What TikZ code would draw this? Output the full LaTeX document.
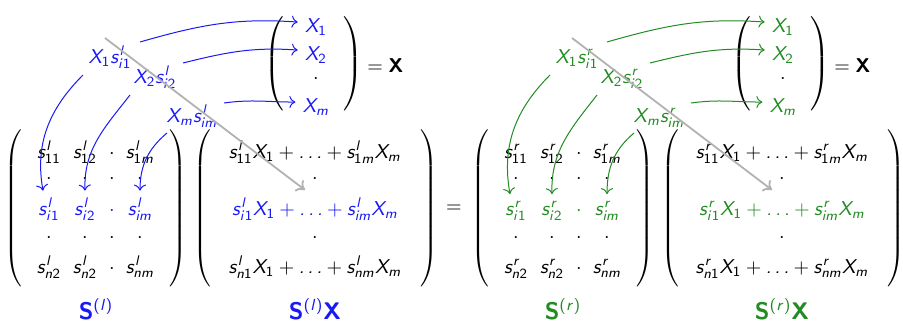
\documentclass[tikz,border=0pt]{standalone}
\usepackage{graphicx}
\usetikzlibrary{arrows.meta,calc}
\DeclareSymbolFont{letters}{OT1}{cmss}{m}{sl}
\DeclareSymbolFont{operators}{OT1}{cmss}{m}{n}
\DeclareMathAlphabet{\mathbf}{OT1}{cmss}{bx}{n}
\newcommand{\pnt}{\mathchar"012E}
\newcommand{\mydots}{\mathinner{\pnt\mkern3mu\pnt\mkern3mu\pnt}}
\definecolor{cblue}{RGB}{25,25,245}
\definecolor{cgreen}{RGB}{34,139,34}
\definecolor{cgray}{RGB}{178,178,178}
\newcommand{\lparm}[2]{\resizebox*{!}{#2}{$\left(\vcenter to #1{\vss}\right.$}}
\newcommand{\rparm}[2]{\resizebox*{!}{#2}{$\left.\vcenter to #1{\vss}\right)$}}
\newcommand{\mparl}[1]{{\delimiterfactor=1000 \delimitershortfall=0pt \lparm{74pt}{#1}}}
\newcommand{\mparr}[1]{{\delimiterfactor=1000 \delimitershortfall=0pt \rparm{74pt}{#1}}}
\tikzset{
  ent/.style={anchor=base, inner sep=3.5pt},
  parbox/.style={inner sep=0pt},
  conn/.style={line width=0.5pt, -{To[length=3pt,width=6pt]}},
  diag/.style={draw=cgray, line width=0.9pt, -{To[length=4pt,width=7pt]}},
  biglabel/.style={anchor=base, inner sep=0pt, font=\large},
}
\newcommand{\halfpic}[4]{%
\begin{scope}[shift={(#1,0)}]
  % matrix S
  \node[parbox] (#4sl) at (15,208.5) {\mparl{78.5pt}};
  \node[parbox] (#4sr) at (177,208.5) {\mparr{78.5pt}};
  \node[ent] (#4a11) at (49,158) {$s^{#3}_{11}$};
  \node[ent] (#4a12) at (85,158) {$s^{#3}_{12}$};
  \node[ent] (#4a13) at (112,158) {$\cdot$};
  \node[ent] (#4a1m) at (140,158) {$s^{#3}_{1m}$};
  \node[ent] (#4b1) at (49,183) {$\cdot$};
  \node[ent] (#4b2) at (85,183) {$\cdot$};
  \node[ent] (#4b3) at (112,183) {$\cdot$};
  \node[ent] (#4b4) at (140,183) {$\cdot$};
  \node[ent,text=#2] (#4i1) at (49,215) {$s^{#3}_{i1}$};
  \node[ent,text=#2] (#4i2) at (85,215) {$s^{#3}_{i2}$};
  \node[ent,text=#2] (#4i3) at (112,215) {$\cdot$};
  \node[ent,text=#2] (#4im) at (140,215) {$s^{#3}_{im}$};
  \node[ent] (#4c1) at (49,242) {$\cdot$};
  \node[ent] (#4c2) at (85,242) {$\cdot$};
  \node[ent] (#4c3) at (112,242) {$\cdot$};
  \node[ent] (#4c4) at (140,242) {$\cdot$};
  \node[ent] (#4n1) at (49,273) {$s^{#3}_{n2}$};
  \node[ent] (#4n2) at (85,273) {$s^{#3}_{n2}$};
  \node[ent] (#4n3) at (112,273) {$\cdot$};
  \node[ent] (#4nm) at (140,273) {$s^{#3}_{nm}$};
  % matrix SX
  \node[parbox] (#4tl) at (204,208.5) {\mparl{78.5pt}};
  \node[parbox] (#4tr) at (428,208.5) {\mparr{78.5pt}};
  \node[ent] (#4r1) at (315,158) {$s^{#3}_{11}X_1+\mydots+s^{#3}_{1m}X_m$};
  \node[ent] (#4r2) at (315,183) {$\cdot$};
  \node[ent,text=#2] (#4r3) at (315,215) {$s^{#3}_{i1}X_1+\mydots+s^{#3}_{im}X_m$};
  \node[ent] (#4r4) at (315,242) {$\cdot$};
  \node[ent] (#4r5) at (315,273) {$s^{#3}_{n1}X_1+\mydots+s^{#3}_{nm}X_m$};
  % labels below
  \node[biglabel,text=#2] (#4ls) at (96,319) {$\mathbf{S}^{(#3)}$};
  \node[biglabel,text=#2] (#4lsx) at (315,319) {$\mathbf{S}^{(#3)}\mathbf{X}$};
  % vector X
  \node[parbox] (#4vl) at (276,64) {\lparm{44pt}{49.3pt}};
  \node[parbox] (#4vr) at (352,64) {\rparm{44pt}{49.3pt}};
  \node[ent,text=#2] (#4x1) at (316,32) {$X_1$};
  \node[ent,text=#2] (#4x2) at (316,60) {$X_2$};
  \node[ent] (#4xd) at (316,83) {$\cdot$};
  \node[ent,text=#2] (#4xm) at (316,112) {$X_m$};
  \node[anchor=base west,inner sep=0pt] (#4eq) at (367,72) {$=\mathbf{X}$};
  % products
  \node[ent,text=#2] (#4p1) at (110,63) {$X_1s^{#3}_{i1}$};
  \node[ent,text=#2] (#4p2) at (155,83) {$X_2s^{#3}_{i2}$};
  \node[ent,text=#2] (#4p3) at (192,122) {$X_ms^{#3}_{im}$};
  % connectors
  \coordinate (#4u1) at (140,42);
  \coordinate (#4u2) at (183,63);
  \coordinate (#4u3) at (224,103);
  \coordinate (#4d1) at (83,75);
  \coordinate (#4d2) at (130,95);
  \coordinate (#4d3) at (167,133);
  \draw[conn,#2] (#4u1) to[out=16,in=176] ($(#4x1.west)+(0,-4.5)$);
  \draw[conn,#2] (#4u2) to[out=14,in=176] ($(#4x2.west)+(0,-4.5)$);
  \draw[conn,#2] (#4u3) to[out=8,in=180] ($(#4xm.west)+(0,-4.5)$);
  \draw[conn,#2] (#4d1) to[out=225,in=100] ($(#4i1.north)+(-6,0)$);
  \draw[conn,#2] (#4d2) to[out=232,in=92] (#4i2.north);
  \draw[conn,#2] (#4d3) to[out=220,in=90] (#4im.north);
  % diagonal
  \coordinate (#4gs) at (105,38);
  \coordinate (#4ge) at (305,190);
  \draw[diag] (#4gs) -- (#4ge);
\end{scope}}
\begin{document}
\begin{tikzpicture}[x=0.5pt,y=-0.5pt]
  \useasboundingbox (0,0) rectangle (903,322);
  \halfpic{0}{cblue}{l}{L}
  \halfpic{467}{cgreen}{r}{R}
  \node[anchor=base,inner sep=0pt] (mideq) at (454,212) {$=$};
\end{tikzpicture}
\end{document}
